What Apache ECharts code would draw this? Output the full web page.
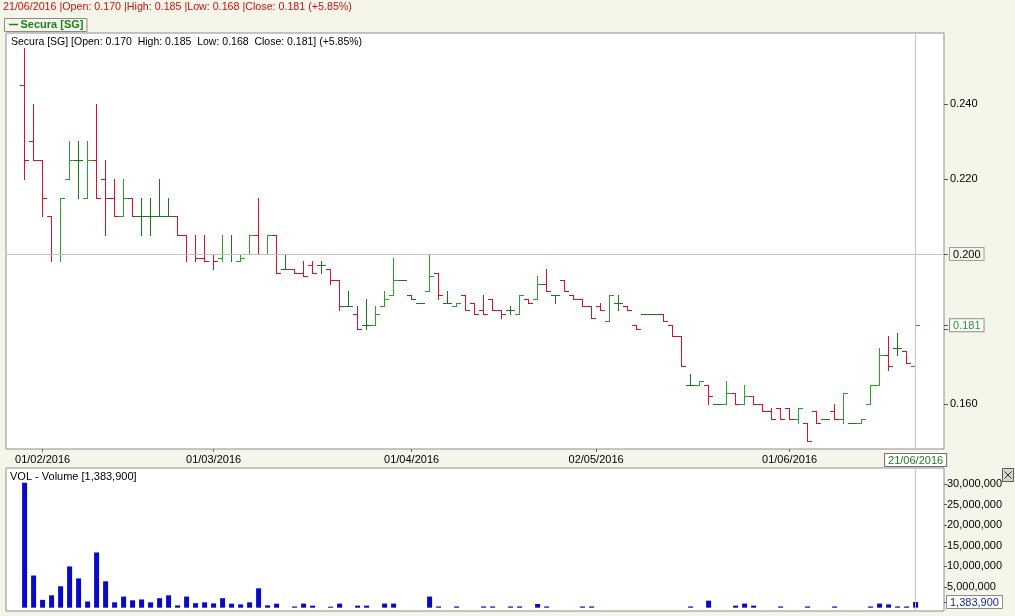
<!DOCTYPE html>
<html><head><meta charset="utf-8">
<script src="https://cdn.jsdelivr.net/npm/echarts@6/dist/echarts.min.js"></script>
<style>html,body{margin:0;padding:0;background:#f6f5e9;}#c{width:1015px;height:616px;}</style>
</head><body><div id="c"></div>
<script>
const dates = [
'28/01/2016','29/01/2016',
'01/02/2016','02/02/2016','03/02/2016','04/02/2016','05/02/2016','10/02/2016','11/02/2016','12/02/2016','15/02/2016','16/02/2016','17/02/2016','18/02/2016','19/02/2016','22/02/2016','23/02/2016','24/02/2016','25/02/2016','26/02/2016','29/02/2016',
'01/03/2016','02/03/2016','03/03/2016','04/03/2016','07/03/2016','08/03/2016','09/03/2016','10/03/2016','11/03/2016','14/03/2016','15/03/2016','16/03/2016','17/03/2016','18/03/2016','21/03/2016','22/03/2016','23/03/2016','24/03/2016','28/03/2016','29/03/2016','30/03/2016','31/03/2016',
'01/04/2016','04/04/2016','05/04/2016','06/04/2016','07/04/2016','08/04/2016','11/04/2016','12/04/2016','13/04/2016','14/04/2016','15/04/2016','18/04/2016','19/04/2016','20/04/2016','21/04/2016','22/04/2016','25/04/2016','26/04/2016','27/04/2016','28/04/2016','29/04/2016',
'03/05/2016','04/05/2016','05/05/2016','06/05/2016','09/05/2016','10/05/2016','11/05/2016','12/05/2016','13/05/2016','16/05/2016','17/05/2016','18/05/2016','19/05/2016','20/05/2016','23/05/2016','24/05/2016','25/05/2016','26/05/2016','27/05/2016','30/05/2016','31/05/2016',
'01/06/2016','02/06/2016','03/06/2016','06/06/2016','07/06/2016','08/06/2016','09/06/2016','10/06/2016','13/06/2016','14/06/2016','15/06/2016','16/06/2016','17/06/2016','20/06/2016','21/06/2016'];

const open = [
0.245,0.230,0.225,0.210,0.200,0.220,0.225,0.215,0.225,0.220,
0.215,0.210,0.215,0.210,0.210,0.210,0.210,0.210,0.205,0.200,
0.199,0.200,0.199,0.200,0.198,0.200,0.205,0.200,0.205,0.196,
0.196,0.195,0.197,0.197,0.196,0.193,0.186,0.184,0.181,0.181,
0.186,0.189,0.193,0.189,0.187,0.190,0.195,0.187,0.186,0.189,
0.187,0.185,0.188,0.185,0.185,0.184,0.188,0.188,0.192,0.189,
0.193,0.189,0.188,0.186,0.186,0.182,0.187,0.186,0.181,0.184,
0.184,0.184,0.181,0.178,0.165,0.165,0.165,0.160,0.160,0.163,
0.160,0.162,0.160,0.158,0.159,0.159,0.156,0.155,0.158,0.156,
0.158,0.156,0.155,0.155,0.160,0.165,0.173,0.175,0.174,0.170];
const high = [
0.255,0.240,0.225,0.210,0.215,0.230,0.230,0.230,0.240,0.225,
0.220,0.220,0.215,0.215,0.215,0.220,0.215,0.210,0.205,0.205,
0.205,0.200,0.205,0.205,0.200,0.205,0.215,0.205,0.205,0.200,
0.196,0.198,0.198,0.198,0.196,0.193,0.190,0.186,0.188,0.186,
0.190,0.199,0.193,0.189,0.187,0.200,0.195,0.190,0.187,0.189,
0.187,0.189,0.188,0.185,0.186,0.189,0.188,0.194,0.196,0.189,
0.193,0.189,0.188,0.186,0.187,0.189,0.189,0.186,0.181,0.184,
0.184,0.184,0.181,0.178,0.168,0.166,0.165,0.160,0.166,0.163,
0.165,0.162,0.160,0.159,0.159,0.159,0.159,0.155,0.158,0.156,
0.160,0.163,0.155,0.156,0.165,0.175,0.178,0.179,0.174,0.185];
const low = [
0.220,0.225,0.210,0.198,0.198,0.220,0.215,0.215,0.215,0.205,
0.210,0.210,0.210,0.205,0.205,0.210,0.210,0.205,0.198,0.198,
0.198,0.196,0.198,0.198,0.198,0.200,0.200,0.200,0.195,0.196,
0.195,0.194,0.195,0.195,0.192,0.185,0.186,0.180,0.180,0.181,
0.186,0.189,0.193,0.188,0.187,0.190,0.188,0.187,0.186,0.185,
0.184,0.184,0.185,0.183,0.184,0.184,0.187,0.188,0.190,0.187,
0.190,0.188,0.186,0.183,0.185,0.182,0.185,0.185,0.180,0.184,
0.184,0.182,0.178,0.170,0.165,0.165,0.160,0.160,0.160,0.160,
0.160,0.160,0.158,0.156,0.156,0.156,0.155,0.150,0.155,0.156,
0.156,0.155,0.155,0.155,0.160,0.165,0.169,0.173,0.171,0.168];
const close = [
0.225,0.225,0.215,0.200,0.215,0.225,0.225,0.225,0.215,0.215,
0.210,0.215,0.210,0.210,0.210,0.210,0.210,0.205,0.200,0.199,
0.198,0.198,0.200,0.200,0.199,0.205,0.200,0.205,0.195,0.196,
0.195,0.194,0.195,0.197,0.193,0.186,0.186,0.180,0.181,0.184,
0.188,0.193,0.193,0.188,0.187,0.194,0.189,0.187,0.187,0.185,
0.184,0.184,0.185,0.184,0.185,0.189,0.187,0.192,0.190,0.189,
0.190,0.188,0.186,0.183,0.185,0.189,0.187,0.185,0.180,0.184,
0.184,0.182,0.178,0.170,0.165,0.166,0.162,0.160,0.163,0.160,
0.162,0.160,0.158,0.156,0.156,0.156,0.159,0.150,0.155,0.156,
0.156,0.163,0.155,0.156,0.165,0.173,0.170,0.175,0.171,0.181];
const volume = [
30300000,7800000,1900000,3000000,5200000,10000000,7100000,1500000,13400000,6400000,
1300000,2700000,1800000,2000000,1300000,2300000,3000000,560000,2700000,1100000,
1300000,1050000,2300000,970000,800000,1300000,4700000,560000,970000,0,
300000,1000000,500000,0,250000,1000000,0,500000,500000,0,
1000000,1000000,0,0,0,2700000,300000,0,300000,0,
0,300000,300000,0,300000,300000,0,900000,300000,0,
0,0,300000,300000,0,0,0,0,0,0,
0,0,0,0,300000,0,1700000,0,0,500000,
1000000,500000,0,0,300000,0,0,300000,0,0,
300000,0,0,0,300000,1000000,800000,300000,300000,1383900];

const priceTicks = [0.16, 0.18, 0.20, 0.22, 0.24];
const volumeTicks = [5000000, 10000000, 15000000, 20000000, 25000000, 30000000];
const monthTickPos = [2, 21, 43, 63.5, 85];
const monthTickLabels = ['01/02/2016', '01/03/2016', '01/04/2016', '02/05/2016', '01/06/2016'];
const headerText = '21/06/2016 |Open: 0.170 |High: 0.185 |Low: 0.168 |Close: 0.181 (+5.85%)';
const infoText = 'Secura [SG] [Open: 0.170  High: 0.185  Low: 0.168  Close: 0.181] (+5.85%)';
const volText = 'VOL - Volume [1,383,900]';
const seriesName = 'Secura [SG]';

const last = dates.length - 1;
const lastClose = close[last];
const lastVol = volume[last];
const crossPrice = 0.20;

const UP = '#26a426', DOWN = '#d5122c', FLAT = '#1a761a';
const FONT = '"Liberation Sans", Arial, sans-serif';
const BG = '#f6f5e9';
const CROSS = {silent: true, symbol: 'none', label: {show: false}, lineStyle: {color: '#c4c4c4', type: 'solid', width: 1}};

const ohlc = dates.map((d, i) => [i, open[i], high[i], low[i], close[i]]);
const volData = volume.map((v, i) => [i, v]);

const chart = echarts.init(document.getElementById('c'));
const r = v => Math.round(v) + 0.5;
const fmtVol = v => Math.round(v).toString().replace(/\B(?=(\d{3})+(?!\d))/g, ',');

chart.setOption({
  animation: false,
  backgroundColor: BG,
  textStyle: {fontFamily: FONT},
  grid: [
    {left: 6, top: 33, width: 938, height: 416, show: true, backgroundColor: '#fff', borderColor: '#8e8e8e', borderWidth: 1},
    {left: 6, top: 468, width: 938, height: 143, show: true, backgroundColor: '#fff', borderColor: '#8e8e8e', borderWidth: 1}
  ],
  xAxis: [
    {type: 'value', gridIndex: 0, min: -2.0667, max: 102.156, splitLine: {show: false},
     axisLine: {show: false, onZero: false},
     axisTick: {show: true, length: 3, customValues: monthTickPos, lineStyle: {color: '#666'}},
     axisLabel: {customValues: monthTickPos.concat([last]), margin: 5, fontSize: 11, color: '#000', fontFamily: FONT,
       formatter: v => {
         const k = monthTickPos.indexOf(v);
         if (k >= 0) return monthTickLabels[k];
         return '{g|' + dates[Math.round(v)] + '}';
       },
       rich: {g: {color: '#1c7c1c', fontSize: 11, fontFamily: FONT, backgroundColor: '#fff', borderColor: '#6f6f6f', borderWidth: 1, padding: [1, 3, 0, 3]}}}},
    {type: 'value', gridIndex: 1, min: -2.0667, max: 102.156, show: false, axisLine: {onZero: false}}
  ],
  yAxis: [
    {type: 'value', gridIndex: 0, position: 'right', min: 0.148, max: 0.258933, splitLine: {show: false},
     axisLine: {show: false, onZero: false},
     axisTick: {show: true, length: 4, customValues: priceTicks.concat([lastClose]).sort((a, b) => a - b), lineStyle: {color: '#555'}},
     axisLabel: {customValues: priceTicks.concat([lastClose]).sort((a, b) => a - b), margin: 6, fontSize: 11, color: '#000', fontFamily: FONT,
       formatter: v => {
         const s = v.toFixed(3);
         if (Math.abs(v - lastClose) < 1e-9) return '{g|' + s + '}';
         if (Math.abs(v - crossPrice) < 1e-9) return '{b|' + s + '}';
         return s;
       },
       rich: {
         g: {color: '#1c9c1c', fontSize: 11, fontFamily: FONT, backgroundColor: '#fff', borderColor: '#8a8a8a', borderWidth: 1, padding: [1, 3, 0, 3]},
         b: {color: '#000', fontSize: 11, fontFamily: FONT, backgroundColor: BG, borderColor: '#a0a0a0', borderWidth: 1, padding: [1, 3, 0, 3]}
       }}},
    {type: 'value', gridIndex: 1, position: 'right', min: -800000, max: 33870000, splitLine: {show: false},
     axisLine: {show: false, onZero: false},
     axisTick: {show: true, length: 3, customValues: [lastVol].concat(volumeTicks), lineStyle: {color: '#555'}},
     axisLabel: {customValues: [lastVol].concat(volumeTicks), margin: 3, fontSize: 11, color: '#000', fontFamily: FONT,
       formatter: v => (Math.abs(v - lastVol) < 1 ? '{v|' + fmtVol(v) + '}' : fmtVol(v)),
       rich: {v: {color: '#1a1aa8', fontSize: 11, fontFamily: FONT, backgroundColor: '#fff', borderColor: '#8a8a8a', borderWidth: 1, padding: [1, 3, 0, 3]}}}}
  ],
  series: [
    {name: seriesName, type: 'custom', xAxisIndex: 0, yAxisIndex: 0, data: ohlc, clip: true, z: 2,
     encode: {x: 0, y: [1, 2, 3, 4]},
     renderItem: (params, api) => {
       const i = api.value(0), o = api.value(1), h = api.value(2), l = api.value(3), c = api.value(4);
       const pO = api.coord([i, o]), pH = api.coord([i, h]), pL = api.coord([i, l]), pC = api.coord([i, c]);
       const half = api.size([1, 0])[0] / 2;
       const x = Math.floor(pO[0]) + 0.5;
       const color = c > o ? UP : (c < o ? DOWN : FLAT);
       const st = {stroke: color, lineWidth: 1};
       return {type: 'group', children: [
         {type: 'line', shape: {x1: x, y1: r(pH[1]) - 0.5, x2: x, y2: r(pL[1]) + 0.5}, style: st},
         {type: 'line', shape: {x1: x - half, y1: r(pO[1]), x2: x, y2: r(pO[1])}, style: st},
         {type: 'line', shape: {x1: x, y1: r(pC[1]), x2: x + half, y2: r(pC[1])}, style: st}
       ]};
     }
    },
    {name: 'Volume', type: 'bar', xAxisIndex: 1, yAxisIndex: 1, data: volData, barWidth: 5, z: 2,
     itemStyle: {color: '#0a0ac4'}},
    {name: 'crossPrice', type: 'line', xAxisIndex: 0, yAxisIndex: 0, data: [], z: 10,
     markLine: Object.assign({data: [{xAxis: last}, {yAxis: crossPrice}]}, CROSS)},
    {name: 'crossVol', type: 'line', xAxisIndex: 1, yAxisIndex: 1, data: [], z: 10,
     markLine: Object.assign({data: [{xAxis: last}]}, CROSS)}
  ],
  graphic: [
    {type: 'text', left: 3, top: 2, style: {text: headerText, fill: '#c41414', font: '10.7px ' + FONT}},
    {type: 'rect', shape: {x: 4.5, y: 18.5, width: 82.5, height: 13}, style: {fill: 'none', stroke: '#8a8a8a', lineWidth: 1}},
    {type: 'line', shape: {x1: 9, y1: 24.5, x2: 18, y2: 24.5}, style: {stroke: '#1e7d1e', lineWidth: 1.5}},
    {type: 'text', x: 20.5, y: 25, style: {text: seriesName, fill: '#1e7d1e', font: 'bold 11px ' + FONT, textVerticalAlign: 'middle'}},
    {type: 'text', x: 11, y: 42, style: {text: infoText, fill: '#000', font: '10.5px ' + FONT, textVerticalAlign: 'middle'}},
    {type: 'text', x: 10, y: 477, style: {text: volText, fill: '#000', font: '11px ' + FONT, textVerticalAlign: 'middle'}},
    {type: 'group', x: 1002, y: 468, children: [
      {type: 'rect', shape: {x: 0.5, y: 0.5, width: 11, height: 13}, style: {fill: '#d8d6cf', stroke: '#5a5a5a', lineWidth: 1}},
      {type: 'line', shape: {x1: 2.5, y1: 3.5, x2: 9.5, y2: 10.5}, style: {stroke: '#333', lineWidth: 1}},
      {type: 'line', shape: {x1: 9.5, y1: 3.5, x2: 2.5, y2: 10.5}, style: {stroke: '#333', lineWidth: 1}}
    ]}
  ]
});
</script></body></html>
